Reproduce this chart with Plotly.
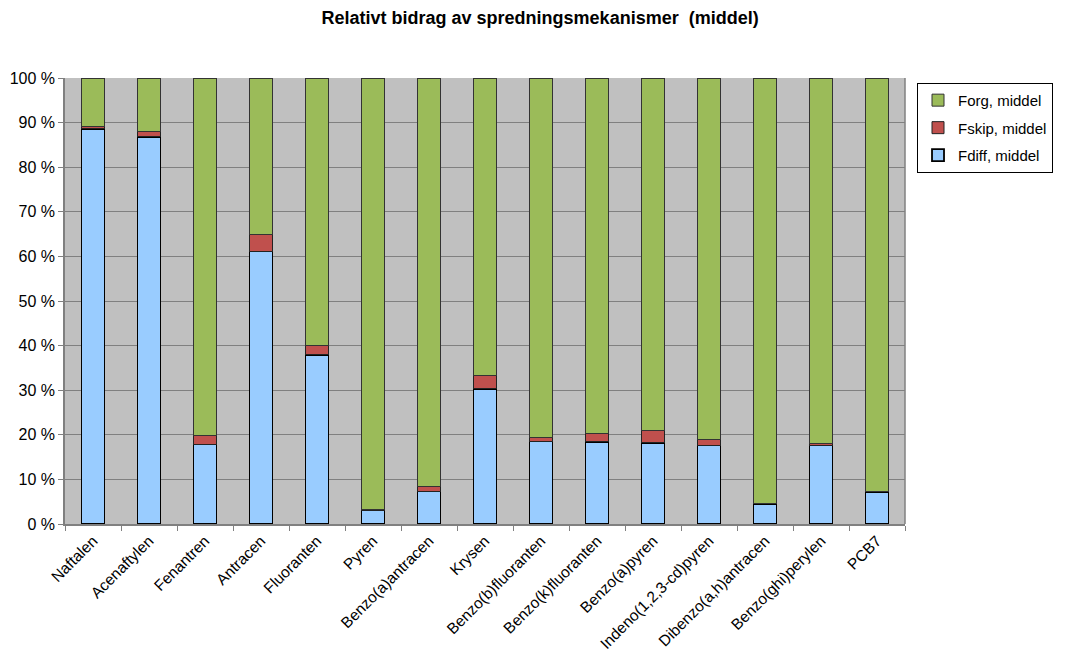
import plotly.graph_objects as go

categories = ["Naftalen", "Acenaftylen", "Fenantren", "Antracen", "Fluoranten", "Pyren",
              "Benzo(a)antracen", "Krysen", "Benzo(b)fluoranten", "Benzo(k)fluoranten",
              "Benzo(a)pyren", "Indeno(1,2,3-cd)pyren", "Dibenzo(a,h)antracen",
              "Benzo(ghi)perylen", "PCB7"]
fdiff = [88.6, 86.8, 17.9, 61.2, 37.9, 3.1, 7.4, 30.3, 18.6, 18.4, 18.2, 17.6, 4.5, 17.7, 7.2]
fskip = [0.5, 1.3, 2.0, 3.8, 2.2, 0.1, 1.0, 3.1, 0.8, 1.9, 2.8, 1.4, 0.1, 0.4, 0.1]
forg = [round(100 - a - b, 1) for a, b in zip(fdiff, fskip)]

fig = go.Figure()
fig.add_trace(go.Bar(x=categories, y=fdiff, name="Fdiff, middel", legendgroup="c",
                     legendrank=3,
                     marker=dict(color="#99CCFF", line=dict(color="black", width=1.8))))
fig.add_trace(go.Bar(x=categories, y=fskip, name="Fskip, middel", legendgroup="b",
                     legendrank=2,
                     marker=dict(color="#C0504D", line=dict(color="#222222", width=1))))
fig.add_trace(go.Bar(x=categories, y=forg, name="Forg, middel", legendgroup="a",
                     legendrank=1,
                     marker=dict(color="#9BBB59", line=dict(color="#333333", width=1))))

W, H = 1060, 645
fig.update_layout(
    barmode="stack",
    bargap=0.59,
    width=W, height=H,
    margin=dict(l=57, r=W - 897, t=70, b=H - 516),
    paper_bgcolor="white",
    plot_bgcolor="#C0C0C0",
    font=dict(family="Arial, Liberation Sans, sans-serif", size=15, color="black"),
    title=dict(text="<b>Relativt bidrag av spredningsmekanismer  (middel)</b>",
               x=0.502, xanchor="center", xref="container",
               y=1 - 10 / H, yanchor="middle", yref="container",
               font=dict(size=18)),
    legend=dict(traceorder="grouped", x=1.0143, xanchor="left", y=0.989,
                yanchor="top", bordercolor="black", borderwidth=1, bgcolor="white",
                font=dict(size=15), tracegroupgap=5,
                entrywidth=125, itemwidth=30),
    showlegend=True,
)
fig.update_xaxes(tickangle=-45, ticks="outside", tickson="boundaries", ticklen=5,
                 tickcolor="#808080", showline=True, linecolor="#808080", linewidth=1.5,
                 showgrid=False, tickfont=dict(size=15.5), automargin=False)
fig.update_yaxes(range=[0, 100], dtick=10, ticksuffix=" %", ticks="outside", ticklen=5,
                 tickcolor="#808080", showline=True, linecolor="#808080", linewidth=1.5,
                 gridcolor="#808080", gridwidth=1, tickfont=dict(size=16), zeroline=False,
                 automargin=False)
fig.add_shape(type="line", xref="paper", yref="paper", x0=1, x1=1, y0=0, y1=1,
              line=dict(color="#808080", width=1.5))

fig.write_html("out.html")
